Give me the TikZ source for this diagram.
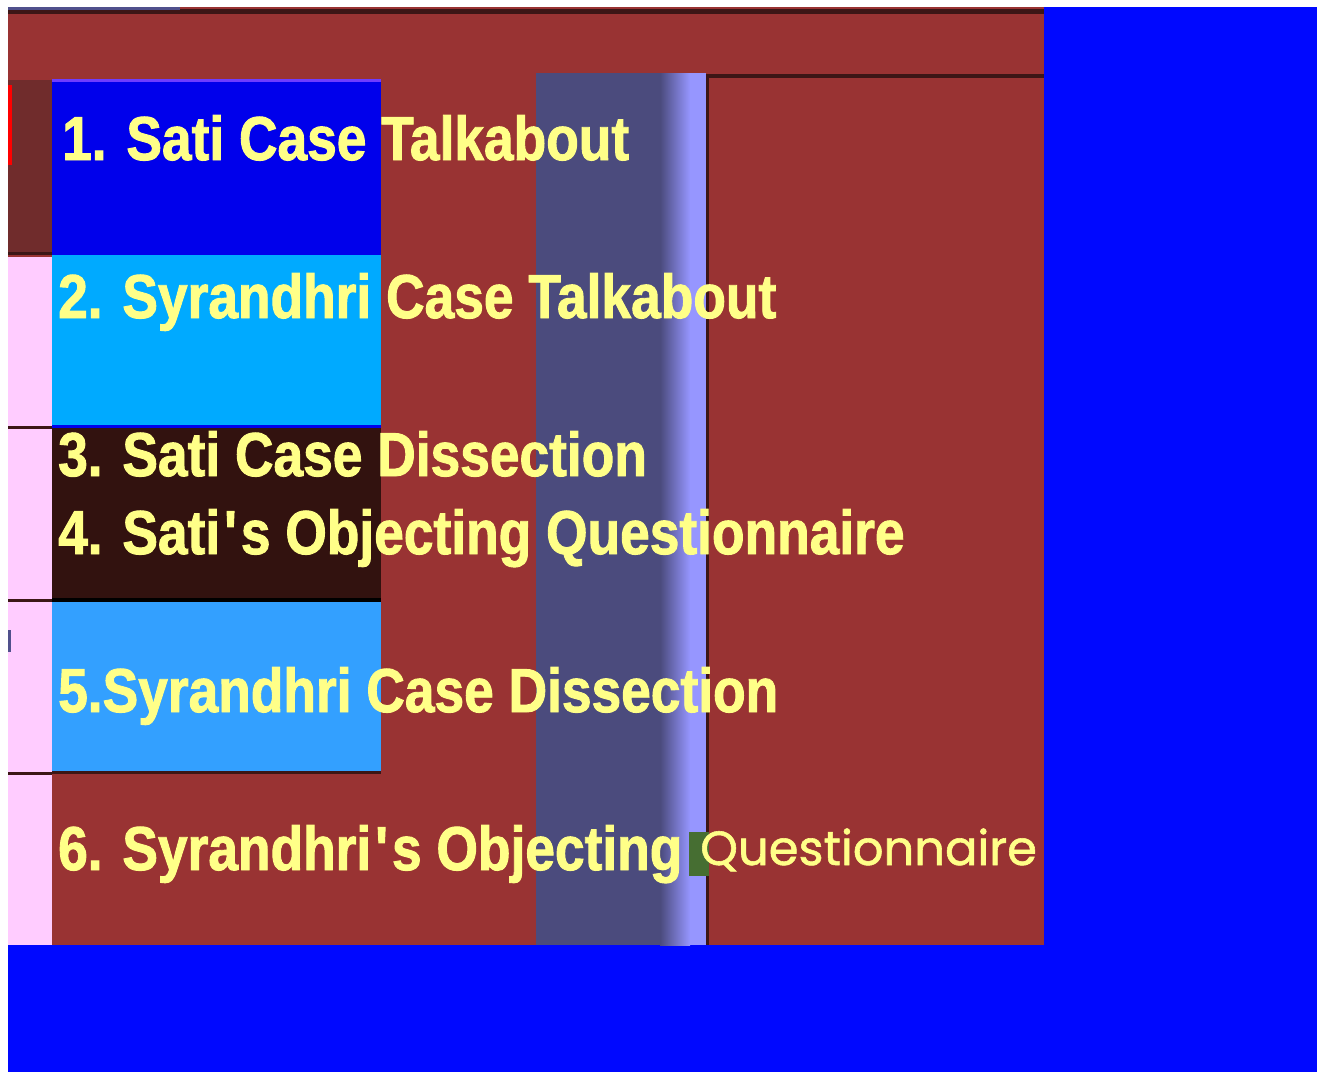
\documentclass[tikz,border=0pt]{standalone}
\usepackage{fontspec}
\newfontfamily\impactish[FakeStretch=0.86,FakeBold=1.5]{Liberation Sans}
\newfontfamily\gothicish[FakeBold=1.2]{Poppins}
\definecolor{wall}{RGB}{153,51,51}
\definecolor{screenblue}{RGB}{0,8,255}
\definecolor{rimdark}{RGB}{60,22,22}
\definecolor{rimblue}{RGB}{80,80,140}
\definecolor{stripdark}{RGB}{112,44,44}
\definecolor{pinkstrip}{RGB}{255,204,255}
\definecolor{boxblue}{RGB}{0,0,235}
\definecolor{boxedge}{RGB}{110,60,255}
\definecolor{boxcyan}{RGB}{0,170,255}
\definecolor{boxdark}{RGB}{50,18,15}
\definecolor{boxsky}{RGB}{51,160,255}
\definecolor{slate}{RGB}{75,75,125}
\definecolor{lavender}{RGB}{150,150,255}
\definecolor{moss}{RGB}{70,110,50}
\definecolor{itemyellow}{RGB}{255,255,136}
\begin{document}
\begin{tikzpicture}[x=1pt,y=-1pt,
    item/.style={anchor=base west, inner sep=0pt, text=itemyellow,
      font=\impactish\bfseries\fontsize{62}{62}\selectfont},
    tail/.style={anchor=base west, inner sep=0pt, text=itemyellow,
      font=\gothicish\fontsize{48}{48}\selectfont}]
    \useasboundingbox (0,0) rectangle (1317,1072);
    \fill[white] (0,0) rectangle (1317,1072);
    \fill[screenblue] (8,7) rectangle (1317,1072);
    \fill[wall] (8,7) rectangle (1044,945);
    % top rim
    \fill[rimdark] (8,9) rectangle (1044,14);
    \fill[rimblue] (8,7) rectangle (180,10);
    % left strip
    \fill[stripdark] (8,80) rectangle (52,253);
    \fill[red] (8,85) rectangle (12,165);
    \fill[pinkstrip] (8,257) rectangle (52,945);
    \fill[rimblue] (8,630) rectangle (11,652);
    % boxes
    \fill[boxblue] (52,80) rectangle (381,255);
    \fill[boxedge] (52,79) rectangle (381,82);
    \fill[boxcyan] (52,255) rectangle (381,425);
    \fill[boxdark] (52,427) rectangle (381,600);
    \fill[boxsky] (52,602) rectangle (381,771);
    \foreach \y in {253,427,600,773}
        \fill[rimdark] (8,\y-1.5) rectangle (52,\y+1.5);
    \fill[boxblue] (52,425) rectangle (381,428);
    \fill[black] (52,598) rectangle (381,602);
    \fill[rimdark] (52,771) rectangle (381,774);
    % column and right panel
    \fill[slate] (536,73) rectangle (660,945);
    \shade[left color=slate, right color=lavender] (660,73) rectangle (690,945);
    \fill[lavender] (690,73) rectangle (706,945);
    \fill[rimdark] (706,74) rectangle (709,945);
    \fill[rimdark] (706,74) rectangle (1044,78);
    \fill[moss] (689,832) rectangle (709,876);
    % items
    \node[item] (t1) at (62,160) {1. Sati Case Talkabout};
    \node[item] (t2) at (58,318) {2. Syrandhri Case Talkabout};
    \node[item] (t3) at (58,476) {3. Sati Case Dissection};
    \node[item] (t4) at (58,554) {4. Sati\kern4pt'\kern4pt s Objecting Questionnaire};
    \node[item] (t5) at (58,712) {5.Syrandhri Case Dissection};
    \node[item] (t6) at (58,870) {6. Syrandhri\kern4pt'\kern4pt s Objecting};
    \node[tail] (q) at (700,865) {Questionnaire};
\end{tikzpicture}
\end{document}
